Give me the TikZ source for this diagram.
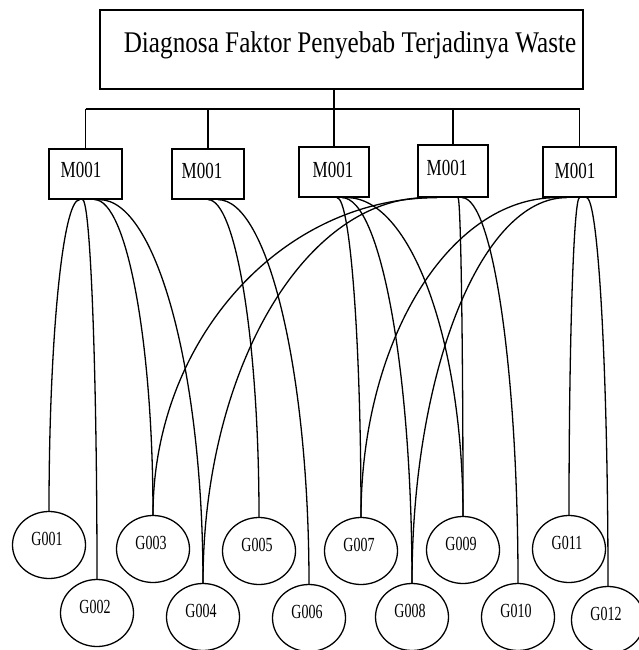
\documentclass[tikz,border=0pt]{standalone}
\usepackage{fontspec}
\setmainfont{Liberation Serif}
\usepackage{graphicx}
\usetikzlibrary{shapes.geometric,calc}

\tikzset{
  wire/.style={line width=1.3pt, black},
  headbox/.style={draw, line width=1.3pt, minimum width=483pt, minimum height=79pt, inner sep=0pt},
  headtext/.style={anchor=base, inner sep=0pt, font=\fontsize{30}{36}\selectfont},
  mbox/.style={draw, line width=1.3pt, minimum width=71pt, minimum height=50pt, inner sep=0pt},
  mlabel/.style={anchor=base, inner sep=0pt, font=\fontsize{23}{28}\selectfont},
  gnode/.style={draw, ellipse, line width=1.3pt, minimum width=73pt, minimum height=67pt, inner sep=0pt},
  glabel/.style={anchor=base, inner sep=0pt, font=\fontsize{20}{24}\selectfont},
}
\newcommand\narrowtext[2]{\scalebox{#1}[1]{#2}}
% curved link: leaves the source sideways, arrives vertically on the target
\newcommand\arcto[2]{\draw[wire] (#1) .. controls ($(#1)!0.55!(#1 -| #2)$) and ($(#2)!0.55!(#2 |- #1)$) .. (#2);}

\begin{document}
\begin{tikzpicture}[x=1pt,y=-1pt]
\fill[white] (0,0) rectangle (639,650);
\useasboundingbox (0,0) rectangle (639,650);

% root
\node[headbox] (title) at (341.5,49.5) {};
\node[headtext] (titletext) at (350,53) {\narrowtext{0.84}{Diagnosa Faktor Penyebab Terjadinya Waste}};

% method boxes
\node[mbox, minimum width=73pt] (m1) at (85.5,174) {};
\node[mbox, minimum width=72pt] (m2) at (208,174) {};
\node[mbox, minimum width=70pt] (m3) at (334,172) {};
\node[mbox, minimum width=70pt, minimum height=52pt] (m4) at (453,171) {};
\node[mbox, minimum width=73pt] (m5) at (579.5,172) {};
\node[mlabel] (m1t) at (81,177) {\narrowtext{0.74}{M001}};
\node[mlabel] (m2t) at (202,178) {\narrowtext{0.74}{M001}};
\node[mlabel] (m3t) at (333,177) {\narrowtext{0.74}{M001}};
\node[mlabel] (m4t) at (447,175) {\narrowtext{0.74}{M001}};
\node[mlabel] (m5t) at (575,178) {\narrowtext{0.74}{M001}};

% tree bus
\coordinate (bus) at (0,109);
\draw[wire] (m1.north |- bus) -- (m5.north |- bus);
\draw[wire] (m3.north |- title.south) -- (m3.north);
\foreach \m in {m1,m2,m4,m5} \draw[wire] (\m.north |- bus) -- (\m.north);

% symptom ellipses
\foreach \n/\x/\y in {1/49/545, 2/97/613, 3/153/549, 4/203/617, 5/259/551, 6/309/618,
                      7/361/551, 8/412/617, 9/463/550, 10/518/617, 11/569/549, 12/608/620}{
  \node[gnode] (g\n) at (\x,\y) {};
}
\node[glabel] (g1t)  at ([xshift=-2pt]g1.center)  {\narrowtext{0.7}{G001}};
\node[glabel] (g2t)  at ([xshift=-2pt]g2.center)  {\narrowtext{0.7}{G002}};
\node[glabel] (g3t)  at ([xshift=-2pt]g3.center)  {\narrowtext{0.7}{G003}};
\node[glabel] (g4t)  at ([xshift=-2pt]g4.center)  {\narrowtext{0.7}{G004}};
\node[glabel] (g5t)  at ([xshift=-2pt]g5.center)  {\narrowtext{0.7}{G005}};
\node[glabel] (g6t)  at ([xshift=-2pt]g6.center)  {\narrowtext{0.7}{G006}};
\node[glabel] (g7t)  at ([xshift=-2pt]g7.center)  {\narrowtext{0.7}{G007}};
\node[glabel] (g8t)  at ([xshift=-2pt]g8.center)  {\narrowtext{0.7}{G008}};
\node[glabel] (g9t)  at ([xshift=-2pt]g9.center)  {\narrowtext{0.7}{G009}};
\node[glabel] (g10t) at ([xshift=-2pt]g10.center) {\narrowtext{0.7}{G010}};
\node[glabel] (g11t) at ([xshift=-2pt]g11.center) {\narrowtext{0.7}{G011}};
\node[glabel] (g12t) at ([xshift=-2pt]g12.center) {\narrowtext{0.7}{G012}};

% link start points on the box bottoms
\coordinate (s1a) at ([xshift=-6pt]m1.south);
\coordinate (s1b) at ([xshift=-3pt]m1.south);
\coordinate (s1c) at ([xshift=9pt]m1.south);
\coordinate (s1d) at ([xshift=14pt]m1.south);
\coordinate (s2a) at (m2.south);
\coordinate (s2b) at ([xshift=10pt]m2.south);
\coordinate (s3a) at ([xshift=3pt]m3.south);
\coordinate (s3b) at ([xshift=8pt]m3.south);
\coordinate (s3c) at ([xshift=13pt]m3.south);
\coordinate (s4a) at ([xshift=-16pt]m4.south);
\coordinate (s4b) at ([xshift=-26pt]m4.south);
\coordinate (s4c) at ([xshift=5pt]m4.south);
\coordinate (s4d) at ([xshift=9pt]m4.south);
\coordinate (s5a) at ([xshift=-23pt]m5.south);
\coordinate (s5b) at ([xshift=-13pt]m5.south);
\coordinate (s5c) at (m5.south);
\coordinate (s5d) at ([xshift=7pt]m5.south);

% links
\arcto{s1a}{g1.north}
\arcto{s1b}{g2.north}
\arcto{s1c}{g3.north}
\arcto{s1d}{g4.north}
\arcto{s2a}{g5.north}
\arcto{s2b}{g6.north}
\arcto{s3a}{g7.north}
\arcto{s3b}{g8.north}
\arcto{s3c}{g9.north}
\arcto{s4a}{g3.north}
\arcto{s4b}{g4.north}
\arcto{s4c}{g9.north}
\arcto{s4d}{g10.north}
\arcto{s5a}{g7.north}
\arcto{s5b}{g8.north}
\arcto{s5c}{g11.north}
\arcto{s5d}{g12.north}
\end{tikzpicture}
\end{document}
